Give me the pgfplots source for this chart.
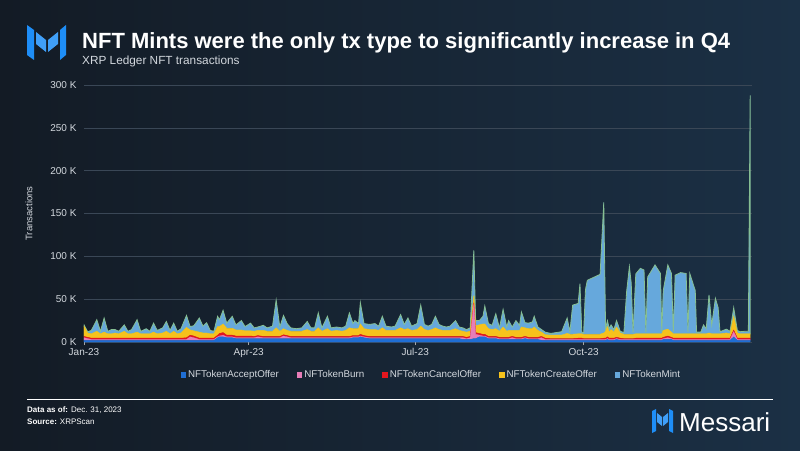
\documentclass[border=0pt]{standalone}
\usepackage{pgfplots}
\pgfplotsset{compat=1.18}
\usepackage{pgfplotstable}
\usepackage{fontspec}
\setmainfont{Liberation Sans}
\definecolor{bgL}{HTML}{131B25}
\definecolor{bgR}{HTML}{1B3045}
\definecolor{gridc}{HTML}{3A4756}
\definecolor{txt}{HTML}{D3D8DE}
\definecolor{cAcc}{HTML}{1F6ED4}
\definecolor{cBurn}{HTML}{E77DB8}
\definecolor{cCanc}{HTML}{E3161E}
\definecolor{cCre}{HTML}{F6C21C}
\definecolor{cMint}{HTML}{66A8DC}
\definecolor{cMintL}{HTML}{86BF93}
\definecolor{logo}{HTML}{1E8EF7}
\pgfplotstableread{
d acc burn canc cre mint
0 2 3 1.5 12 1.5
2 2 2 1.5 5 1.5
4 2 1 1.5 5 4
7 2 1 1.5 8 13.5
9 2 1 1.5 5 3
11 2 1 1.5 7 16.5
13 2 1 1.5 5 3
15 2 1 1.5 5 5
17 2 1 1.5 6 4
19 2 1 1.5 5 3
22 2 1 1.5 8 7.5
24 2 1 1.5 5 3
26 2 1 1.5 5 5
29 2 1 1.5 7 14.5
31 2 1 1.5 5 3
34 2 1 1.5 5 6
36 2 1 1.5 5 3
38 2 1 1.5 7 10.5
40 2 1 1.5 5 4
43 2 1 1.5 6 6
45 2 1 1.5 8 11.5
47 2 1 1.5 5 4
49 2 1 1.5 8 9.5
51 2 1 1.5 5 3
53 2 1 1.5 6 5
56 2 1 2 12 14
58 2 4 2 6 4
60 2 3 2 6 6
63 2 1 1.5 7 16.5
65 2 1 1.5 6 8
67 2 1 1.5 6 12
69 2 1 1.5 5 4
71 2 1 1.5 5 3
73 5 1 2 10 12
74 6 1 3 8 8
76 6 2 3 10 16
78 5 1 2 8 6
81 5 1 2 8 14
83 4 1 2 7 6
86 4 1 2 7 11
88 4 1 2 6 5
91 4 1 2 6 9
93 4 1 1.5 6 4
95 4 2 1.5 6 4
98 4 1 1.5 7 6
100 4 1 1.5 6 4
103 4 1 1.5 6 6
105 4 1 1.5 10 32.5
107 4 1 1.5 6 5
109 4 3 1.5 7 15.5
111 4 2 1.5 6 8
113 4 1 1.5 6 4
116 4 1 1.5 6 3
119 4 1 1.5 6 4
122 4 1 1.5 8 9.5
124 4 1 1.5 6 4
126 4 1 1.5 6 4
128 4 1 1.5 10 17.5
130 4 1 1.5 6 4
133 4 1 1.5 9 14.5
135 4 1 1.5 6 4
138 4 1 1.5 7 4
141 4 1 1.5 6 4
143 4 1 1.5 7 5
145 4 1 1.5 10 17.5
147 5 1 1.5 8 6
148 5 1 1.5 8 9.5
150 5 1 1.5 8 6
151 6 1 2 12 25
153 5 1 1.5 8 6
156 4 1 1.5 8 6
159 4 1 1.5 8 7
161 4 1 1.5 7 5
163 4 1 1.5 10 13.5
165 4 1 1.5 7 5
168 4 1 1.5 7 4
170 4 1 1.5 7 5
173 4 1 1.5 10 15.5
175 4 1 1.5 8 6
177 4 1 1.5 9 12.5
179 4 1 1.5 7 5
182 4 1 1.5 8 7
184 4 1 1.5 12 24.5
186 4 1 1.5 8 6
188 4 1 1.5 7 5
190 4 1 1.5 8 6
192 4 1 1.5 10 13.5
194 4 1 1.5 8 6
196 4 1 1.5 7 5
198 4 1 1.5 7 4
200 4 1 1.5 7 5
203 4 1 1.5 9 9.5
205 4 1 1.5 7 4
207 3 2 1.5 6 4
209 3 1 1.5 6 3
211 3 2 1.5 6 4
213 4 40 2 8 53
214 4 5 2 8 6
216 6 2 2 10 5
218 6 1 2 12 9
219 6 1 2 12 21
221 4 1 1.5 9 6
223 4 1 1.5 8 5
225 4 1 1.5 9 17.5
227 3 1 1.5 7 4
229 3 1 1.5 12 20.5
231 3 1 1.5 7 5
232 3 1 1.5 8 11.5
234 3 2 1.5 7 4
236 3 1 1.5 8 11.5
238 3 1 1.5 8 6
239 3 1 1.5 12 17.5
241 4 1 1.5 10 6
243 3 1 1.5 10 6.5
245 3 1 1.5 10 8
246 3 1 1.5 12 12.5
248 3 1 1.5 8 4
250 2 3 1.5 5 3
252 2 1 1.5 4 3
255 2 1 1 4 2
258 2 1 1 4 3
261 2 1 1 4 4
264 2 1 1 6 18
265.5 2 1 1 5 3
267 2 1 1 5 34
270 2 1 1.5 5 35.5
271 2 1 1.5 5 58.5
272 2 1 1.5 5 2
273 2 1 1 5 2
274 2 1 1 5 52
275 2 1 1 5 63
278 2 1 1 5 66
281 2 1 1 5 69
282 2 1 1 5 70
284 2 1 1.5 6 152.5
285 2 1 1.5 8 3
286 3 1 2 12 7
287 2 1 1.5 7 4
288 2 1 1.5 10 5.5
289.5 2 1 1.5 7 3
291 3 1 1.5 12 7.5
293 2 1 1.5 6 2
295 2 1 1 5 2
296.5 2 1 1 5 50
298 2 1 1 5 79
299 2 1 1 5 60
300 2 1 1 5 2
301.5 2 1 1.5 5 70
304 2 1 1.5 5 76.5
306 2 1 1.5 5 74.5
307 2 1 1.5 5 2
308 2 1 1.5 5 66.5
312 2 1 1.5 5 80.5
315 2 1 1.5 5 70.5
315.7 2 1 1.5 5 2
316.5 3 1 1.5 8 46.5
319 3 2 2 8 75
321 3 1 1.5 6 68.5
322 2 1 1.5 5 2
323 2 1 1.5 5 68.5
326 2 1 1.5 5 71.5
329 2 1 1.5 5 70.5
330 2 1 1.5 5 2
331 2 1 1.5 5 70.5
334 2 1 1.5 5 50.5
334.7 2 1 1.5 5 2
337 2 1 1.5 5 2
338.5 2 1 1.5 5 10.5
340 2 1 1.5 5 6
341.5 2 1 1.5 6 44.5
343 2 1 1.5 5 10.5
345 2 1 1.5 5 41.5
346.5 2 1 1.5 5 30.5
347.5 2 1 1.5 5 2.5
351 2 1 1.5 6 4.5
353 2 1 1.5 5 3
355 6 6 2 16 10
357 2 1 1.5 6 3
358.5 2 1 1.5 5 2.5
361 2 1 1.5 5 3
363 2 1 1.5 5 3
364 2 1 1.5 5 278.5
}\datatable
\begin{document}
\begin{tikzpicture}[x=1pt,y=1pt]
\path[use as bounding box] (0,0) rectangle (800,450);
\shade[left color=bgL, right color=bgR] (0,0) rectangle (800,450);
% logo top-left
\fill[logo] (27,425) -- (34,420) -- (34,390) -- (27,395) -- cycle;
\fill[logo!85!white] (36,418) -- (46,410) -- (46,398) -- (36,406) -- cycle;
\fill[logo!85!white] (48,410) -- (58,418) -- (58,406) -- (48,398) -- cycle;
\fill[logo] (60,420) -- (66,425) -- (66,395) -- (60,390) -- cycle;
% title
\node[anchor=base west, inner sep=0, text=white, font=\bfseries\fontsize{22}{26}\selectfont] at (82,401) {NFT Mints were the only tx type to significantly increase in Q4};
\node[anchor=base west, inner sep=0, text=txt, font=\fontsize{11.8}{14}\selectfont] at (82,385.5) {XRP Ledger NFT transactions};
% footer
\draw[white, line width=0.9pt] (27,51) -- (773,51);
\node[anchor=base west, inner sep=0, text=white, font=\fontsize{8}{9}\selectfont] at (27,38) {\textbf{Data as of:} Dec. 31, 2023};
\node[anchor=base west, inner sep=0, text=white, font=\fontsize{8}{9}\selectfont] at (27,26) {\textbf{Source:} XRPScan};
\fill[logo] (652,39) -- (656,41) -- (656,19) -- (652,17) -- cycle;
\fill[logo!85!white] (657,37) -- (662,33) -- (662,24) -- (657,28) -- cycle;
\fill[logo!85!white] (663,33) -- (668,37) -- (668,28) -- (663,24) -- cycle;
\fill[logo] (669,41) -- (673,39) -- (673,17) -- (669,19) -- cycle;
\node[anchor=base west, inner sep=0, text=white, font=\fontsize{26}{28}\selectfont] at (679,19) {Messari};
\begin{axis}[
  at={(84pt,108pt)}, anchor=south west,
  scale only axis, width=668pt, height=257pt,
  xmin=0, xmax=365, ymin=0, ymax=300,
  stack plots=y,
  axis line style={draw=none},
  ymajorgrids, grid style={gridc, line width=0.6pt},
  ytick={0,50,100,150,200,250,300},
  yticklabels={0 K,50 K,100 K,150 K,200 K,250 K,300 K},
  xtick={0,90,181,273},
  xticklabels={Jan-23,Apr-23,Jul-23,Oct-23},
  xtick pos=lower, ytick style={draw=none},
  xtick style={draw=gray!70, line width=0.5pt},
  tick align=outside, major tick length=3pt,
  tick label style={text=txt, font=\fontsize{10}{12}\selectfont},
  /pgf/number format/assume math mode=true,
  yticklabel style={xshift=-1pt},
  ylabel={Transactions},
  ylabel style={text=txt, font=\fontsize{9.5}{11}\selectfont, at={(axis description cs:-0.072,0.5)}, anchor=south},
  legend style={at={(0.52,-0.128)}, anchor=center, draw=none, fill=none,
    text=txt, font=\fontsize{9.8}{11}\selectfont, legend columns=-1,
    /tikz/every even column/.append style={column sep=16pt}},
  legend image code/.code={\fill[#1,draw=none] (0pt,-2.7pt) rectangle (5.5pt,2.8pt);},
]
\addplot[fill=cAcc, draw=cAcc, line width=0.3pt] table[x=d,y=acc] {\datatable} \closedcycle;
\addlegendentry{NFTokenAcceptOffer}
\addplot[fill=cBurn, draw=cBurn, line width=0.3pt] table[x=d,y=burn] {\datatable} \closedcycle;
\addlegendentry{NFTokenBurn}
\addplot[fill=cCanc, draw=cCanc, line width=0.3pt] table[x=d,y=canc] {\datatable} \closedcycle;
\addlegendentry{NFTokenCancelOffer}
\addplot[fill=cCre, draw=cCre, line width=0.3pt] table[x=d,y=cre] {\datatable} \closedcycle;
\addlegendentry{NFTokenCreateOffer}
\addplot[fill=cMint, draw=cMintL, line width=0.8pt] table[x=d,y=mint] {\datatable} \closedcycle;
\addlegendentry{NFTokenMint}
\end{axis}
\end{tikzpicture}
\end{document}
